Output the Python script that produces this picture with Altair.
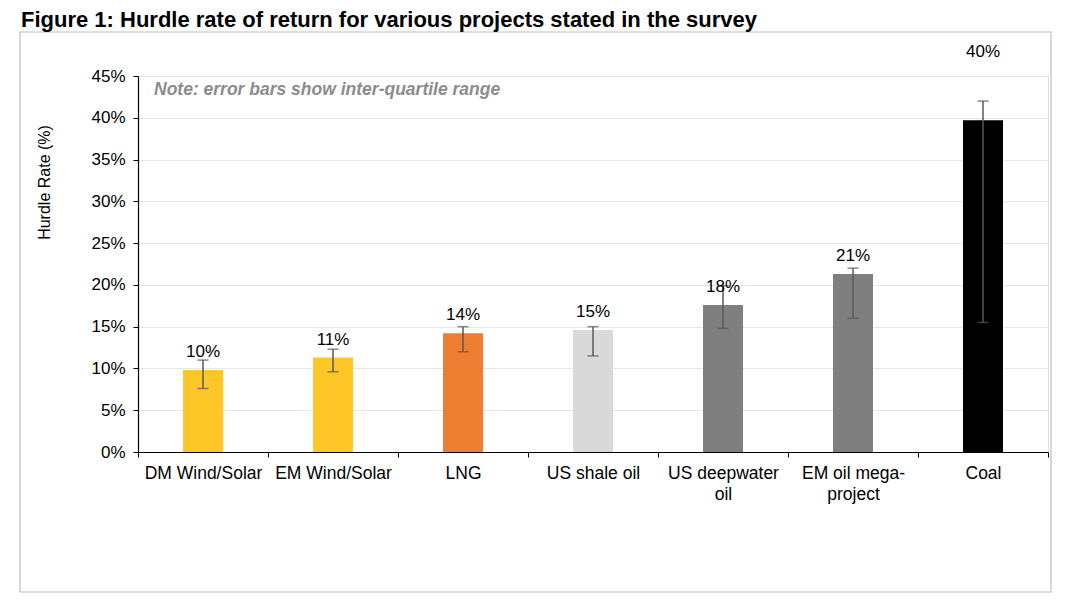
import altair as alt
import pandas as pd

projects = ["DM Wind/Solar", "EM Wind/Solar", "LNG", "US shale oil",
            "US deepwater oil", "EM oil mega-project", "Coal"]
hurdle = [0.098, 0.113, 0.142, 0.146, 0.176, 0.213, 0.397]
q_low = [0.076, 0.096, 0.120, 0.115, 0.148, 0.160, 0.155]
q_high = [0.110, 0.123, 0.150, 0.150, 0.199, 0.220, 0.420]
label_pos = [0.098, 0.113, 0.142, 0.146, 0.176, 0.213, 0.457]
bar_colors = ["#FFC628", "#FFC628", "#ED7D31", "#D9D9D9", "#7F7F7F", "#7F7F7F", "#000000"]

df = pd.DataFrame({"project": projects, "hurdle": hurdle, "low": q_low,
                   "high": q_high, "label_pos": label_pos})

FONT = "Liberation Sans"
W, H = 910, 376

x_enc = alt.X("project:N", sort=projects, title=None,
              scale=alt.Scale(paddingInner=0, paddingOuter=0),
              axis=alt.Axis(labelAngle=0, labelFontSize=17.5, labelColor="#000000",
                            labelFont=FONT, labelPadding=7, labelLineHeight=21,
                            labelBaseline="top",
                            tickBand="extent", tickSize=5, tickColor="#000000",
                            domainColor="#000000", domainWidth=1.2,
                            labelExpr="datum.value == 'US deepwater oil' ? ['US deepwater','oil'] : datum.value == 'EM oil mega-project' ? ['EM oil mega-','project'] : datum.label"))

y_scale = alt.Scale(domain=[0, 0.45], nice=False, zero=True)

bars = alt.Chart(df).mark_bar(width=40).encode(
    x=x_enc,
    y=alt.Y("hurdle:Q", scale=y_scale, title="Hurdle Rate (%)",
            axis=alt.Axis(format=".0%", values=[0, 0.05, 0.1, 0.15, 0.2, 0.25, 0.3, 0.35, 0.4, 0.45],
                          labelFontSize=17, labelFont=FONT, labelColor="#000000",
                          labelPadding=8, tickSize=5, tickColor="#000000",
                          domainColor="#000000", domainWidth=1.2,
                          grid=True, gridColor="#E6E6E6", gridWidth=1,
                          titleFont=FONT, titleFontSize=16, titleFontWeight="normal",
                          titleColor="#000000", titleX=-86, titleY=106)),
    color=alt.Color("project:N", scale=alt.Scale(domain=projects, range=bar_colors), legend=None),
)

err = alt.Chart(df).mark_rule(color="#595959", strokeWidth=1.5).encode(
    x=alt.X("project:N", sort=projects),
    y=alt.Y("low:Q", scale=y_scale),
    y2="high:Q",
)
cap_lo = alt.Chart(df).mark_tick(color="#595959", thickness=1.5, size=11).encode(
    x=alt.X("project:N", sort=projects), y=alt.Y("low:Q", scale=y_scale))
cap_hi = alt.Chart(df).mark_tick(color="#595959", thickness=1.5, size=11).encode(
    x=alt.X("project:N", sort=projects), y=alt.Y("high:Q", scale=y_scale))

labels = alt.Chart(df).mark_text(fontSize=17, font=FONT, color="#000000",
                                 baseline="middle", dy=-18).encode(
    x=alt.X("project:N", sort=projects),
    y=alt.Y("label_pos:Q", scale=y_scale),
    text=alt.Text("hurdle:Q", format=".0%"),
)

note = alt.Chart(pd.DataFrame({"t": ["Note: error bars show inter-quartile range"]})).mark_text(
    fontSize=17.5, font=FONT, fontStyle="italic", fontWeight="bold", color="#8C8C8C",
    align="left", baseline="middle").encode(
    x=alt.value(16), y=alt.value(14), text="t:N")

frame = alt.Chart(pd.DataFrame({"k": [0]})).mark_rect(
    fill=None, stroke="#BFBFBF", strokeWidth=1.2).encode(
    x=alt.value(-118), x2=alt.value(913), y=alt.value(-44), y2=alt.value(516))

chart = alt.layer(frame, bars, err, cap_lo, cap_hi, labels, note).properties(
    width=W, height=H,
    title=alt.TitleParams("Figure 1: Hurdle rate of return for various projects stated in the survey",
                          anchor="start", frame="group", dx=-117, dy=2, offset=1,
                          font=FONT, fontSize=22, fontWeight="bold", color="#000000"),
    autosize=alt.AutoSizeParams(type="none"),
    padding={"left": 130, "top": 68, "right": 22, "bottom": 142},
).configure_view(stroke=None).configure(background="#FFFFFF")

chart.save("out.html", embed_options={"renderer": "svg", "actions": False})
